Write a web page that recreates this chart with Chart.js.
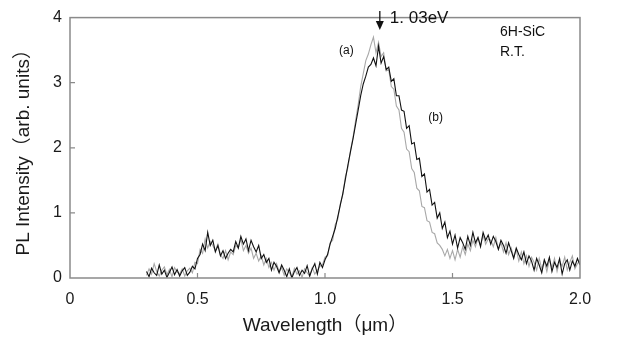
<!DOCTYPE html>
<html>
<head>
<meta charset="utf-8">
<script src="https://cdn.jsdelivr.net/npm/chart.js@4/dist/chart.umd.min.js"></script>
<style>
  html, body { margin: 0; padding: 0; background: #fff; }
  #wrap { width: 620px; height: 344px; }
</style>
</head>
<body>
<div id="wrap"><canvas id="pl_chart" width="620" height="344"></canvas></div>
<script>
// wavelength grid (um): 0.30 .. 2.00, step 0.01
const wlStart = 0.30
const wlStep = 0.01

// spectrum (a) - grey, one row = 0.1 um
const specA = [
  0.04, 0.14, 0.06, 0.22, 0.10, 0.03, 0.12, 0.17, 0.05, 0.13,
  0.02, 0.16, 0.09, 0.06, 0.14, 0.03, 0.11, 0.15, 0.08, 0.24,
  0.22, 0.44, 0.38, 0.60, 0.46, 0.56, 0.50, 0.42, 0.52, 0.36,
  0.30, 0.42, 0.28, 0.40, 0.36, 0.50, 0.46, 0.60, 0.42, 0.50,
  0.38, 0.46, 0.30, 0.38, 0.26, 0.34, 0.20, 0.30, 0.16, 0.24,
  0.12, 0.22, 0.10, 0.16, 0.04, 0.14, 0.08, 0.02, 0.15, 0.06,
  0.11, 0.01, 0.14, 0.08, 0.03, 0.16, 0.06, 0.12, 0.18, 0.20,
  0.32, 0.34, 0.54, 0.58, 0.82, 0.90, 1.14, 1.28, 1.56, 1.70,
  1.96, 2.16, 2.42, 2.66, 2.94, 3.14, 3.34, 3.44, 3.58, 3.70,
  3.46, 3.62, 3.40, 3.46, 3.18, 3.20, 2.94, 2.90, 2.64, 2.58,
  2.30, 2.24, 1.98, 1.94, 1.68, 1.62, 1.38, 1.34, 1.10, 1.08,
  0.88, 0.86, 0.70, 0.68, 0.54, 0.50, 0.44, 0.34, 0.44, 0.30,
  0.42, 0.28, 0.44, 0.32, 0.48, 0.36, 0.52, 0.42, 0.58, 0.48,
  0.62, 0.50, 0.66, 0.52, 0.60, 0.58, 0.48, 0.62, 0.44, 0.54,
  0.40, 0.54, 0.36, 0.46, 0.32, 0.44, 0.26, 0.40, 0.22, 0.34,
  0.18, 0.32, 0.24, 0.12, 0.30, 0.14, 0.26, 0.10, 0.28, 0.16,
  0.30, 0.10, 0.26, 0.18, 0.32, 0.12, 0.24, 0.34, 0.14, 0.22,
  0.26
]

// spectrum (b) - black
const specB = [
  0.10, 0.02, 0.15, 0.08, 0.04, 0.20, 0.06, 0.12, 0.01, 0.09,
  0.17, 0.05, 0.13, 0.03, 0.11, 0.16, 0.04, 0.09, 0.18, 0.14,
  0.30, 0.36, 0.52, 0.42, 0.70, 0.50, 0.58, 0.40, 0.50, 0.34,
  0.42, 0.30, 0.38, 0.44, 0.40, 0.56, 0.46, 0.64, 0.52, 0.60,
  0.42, 0.58, 0.48, 0.40, 0.50, 0.30, 0.36, 0.24, 0.30, 0.12,
  0.24, 0.18, 0.08, 0.20, 0.12, 0.02, 0.14, 0.00, 0.10, 0.16,
  0.04, 0.12, 0.07, 0.19, 0.03, 0.14, 0.22, 0.06, 0.24, 0.16,
  0.28, 0.36, 0.52, 0.64, 0.76, 0.94, 1.12, 1.30, 1.52, 1.74,
  1.94, 2.14, 2.36, 2.58, 2.80, 2.98, 3.10, 3.24, 3.28, 3.38,
  3.26, 3.56, 3.30, 3.40, 3.20, 3.24, 3.02, 3.06, 2.80, 2.80,
  2.58, 2.56, 2.30, 2.34, 2.06, 2.08, 1.82, 1.84, 1.56, 1.60,
  1.32, 1.36, 1.12, 1.16, 0.92, 1.00, 0.76, 0.86, 0.62, 0.72,
  0.52, 0.66, 0.46, 0.62, 0.54, 0.44, 0.64, 0.50, 0.70, 0.54,
  0.62, 0.48, 0.70, 0.58, 0.66, 0.52, 0.64, 0.56, 0.44, 0.58,
  0.50, 0.38, 0.54, 0.42, 0.30, 0.46, 0.36, 0.28, 0.40, 0.22,
  0.34, 0.26, 0.12, 0.30, 0.20, 0.08, 0.28, 0.18, 0.32, 0.10,
  0.24, 0.16, 0.30, 0.06, 0.22, 0.28, 0.12, 0.26, 0.18, 0.30,
  0.20
]

const xTicks = [0, 0.5, 1.0, 1.5, 2.0]
const yTicks = [0, 1, 2, 3, 4]

function toPoints(arr) {
  return arr.map((v, i) => ({ x: +(wlStart + i * wlStep).toFixed(2), y: v }))
}

const fontMain = '"Liberation Sans", Arial, "Noto Sans CJK JP", sans-serif'

// frame, inner ticks and labels
const frameAndNotes = {
  id: 'frameAndNotes',
  afterDraw(chart) {
    const ctx = chart.ctx
    const a = chart.chartArea
    const xs = chart.scales.x
    const ys = chart.scales.y
    ctx.save()
    ctx.strokeStyle = '#8a8a8a'
    ctx.lineWidth = 1.5
    ctx.strokeRect(a.left, a.top, a.right - a.left, a.bottom - a.top)
    ctx.lineWidth = 1.2
    ctx.beginPath()
    for (const t of [1, 2, 3]) {
      const py = ys.getPixelForValue(t)
      ctx.moveTo(a.left, py); ctx.lineTo(a.left + 5, py)
    }
    for (const t of [0.5, 1.0, 1.5]) {
      const px = xs.getPixelForValue(t)
      ctx.moveTo(px, a.bottom); ctx.lineTo(px, a.bottom - 5)
    }
    ctx.stroke()

    // arrow for 1.03 eV
    const ax = xs.getPixelForValue(1.215)
    ctx.strokeStyle = '#111'
    ctx.fillStyle = '#111'
    ctx.lineWidth = 1.3
    ctx.beginPath()
    ctx.moveTo(ax, 11); ctx.lineTo(ax, 24)
    ctx.stroke()
    ctx.beginPath()
    ctx.moveTo(ax - 4, 21); ctx.lineTo(ax + 4, 21); ctx.lineTo(ax, 30); ctx.closePath()
    ctx.fill()

    ctx.textBaseline = 'middle'
    ctx.textAlign = 'left'
    ctx.font = '17px ' + fontMain
    ctx.fillText('1. 03eV', ax + 10, 18)
    ctx.font = '12px ' + fontMain
    ctx.fillText('(a)', xs.getPixelForValue(1.055), 51)
    ctx.fillText('(b)', xs.getPixelForValue(1.405), 118)
    ctx.font = '14px ' + fontMain
    ctx.fillText('6H-SiC', 500, 32)
    ctx.fillText('R.T.', 500, 52)
    ctx.restore()
  }
}

const config = {
  type: 'line',
  data: {
    datasets: [
      {
        label: '(b)',
        data: toPoints(specB),
        borderColor: '#111111',
        borderWidth: 1.1,
        pointRadius: 0,
        tension: 0,
        order: 0
      },
      {
        label: '(a)',
        data: toPoints(specA),
        borderColor: '#a8a8a8',
        borderWidth: 1.1,
        pointRadius: 0,
        tension: 0,
        order: 1
      }
    ]
  },
  options: {
    responsive: false,
    animation: false,
    layout: { padding: { top: 9, right: 40, left: 0, bottom: 0 } },
    plugins: { legend: { display: false }, tooltip: { enabled: false } },
    scales: {
      x: {
        type: 'linear',
        min: 0, max: 2,
        afterFit: s => { s.height = 66 },
        afterBuildTicks: s => { s.ticks = xTicks.map(v => ({ value: v })) },
        grid: { display: false, drawTicks: false },
        border: { display: false },
        ticks: {
          padding: 12,
          color: '#1a1a1a',
          font: { family: fontMain, size: 16 },
          callback: v => (v === 0 ? '0' : v.toFixed(1))
        },
        title: {
          display: true,
          text: 'Wavelength（μm）',
          color: '#1a1a1a',
          font: { family: fontMain, size: 19 },
          padding: { top: 0, bottom: 7 }
        }
      },
      y: {
        min: 0, max: 4,
        afterFit: s => { s.width = 70 },
        afterBuildTicks: s => { s.ticks = yTicks.map(v => ({ value: v })) },
        grid: { display: false, drawTicks: false },
        border: { display: false },
        ticks: {
          padding: 8,
          color: '#1a1a1a',
          font: { family: fontMain, size: 16 }
        },
        title: {
          display: true,
          text: 'PL Intensity（arb. units）',
          color: '#1a1a1a',
          font: { family: fontMain, size: 19 },
          padding: { top: 12, bottom: 0 }
        }
      }
    }
  },
  plugins: [frameAndNotes]
}

const plChart = new Chart(document.getElementById('pl_chart'), config)
</script>
</body>
</html>
